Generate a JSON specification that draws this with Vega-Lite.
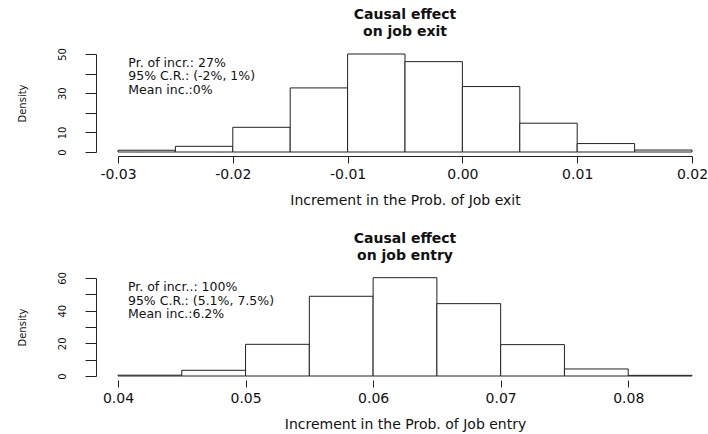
{
  "$schema": "https://vega.github.io/schema/vega-lite/v6.json",
  "background": "white",
  "padding": {"top": 8, "left": 17, "right": 8, "bottom": 2},
  "spacing": 25,
  "config": {
    "view": {"stroke": null},
    "font": "DejaVu Sans",
    "axis": {"grid": false, "domainColor": "#222", "tickColor": "#222", "labelColor": "#111", "titleColor": "#111", "labelFont": "DejaVu Sans", "titleFont": "DejaVu Sans", "titleFontWeight": "normal"},
    "axisX": {"labelFontSize": 14, "titleFontSize": 14, "tickSize": 7, "offset": 4, "labelPadding": 4, "titlePadding": 12, "labelFlush": false, "tickCount": 20, "labelExpr": "replace(datum.label, '\u2212', '-')"},
    "axisY": {"labelFontSize": 10, "titleFontSize": 10, "tickSize": 11, "offset": 22, "labelAngle": -90, "labelAlign": "center", "labelBaseline": "bottom", "labelPadding": 18, "titlePadding": 30, "labelOverlap": false, "tickCount": 20},
    "title": {"font": "DejaVu Sans", "fontSize": 14, "fontWeight": "bold", "lineHeight": 16.5, "anchor": "middle", "frame": "group", "offset": 9, "color": "#111"}
  },
  "datasets": {
    "exit": [
      {"lo": -0.03, "hi": -0.025, "density": 0.9},
      {"lo": -0.025, "hi": -0.02, "density": 2.9},
      {"lo": -0.02, "hi": -0.015, "density": 12.6},
      {"lo": -0.015, "hi": -0.01, "density": 32.7},
      {"lo": -0.01, "hi": -0.005, "density": 50.0},
      {"lo": -0.005, "hi": 0.0, "density": 46.1},
      {"lo": 0.0, "hi": 0.005, "density": 33.4},
      {"lo": 0.005, "hi": 0.01, "density": 14.7},
      {"lo": 0.01, "hi": 0.015, "density": 4.3},
      {"lo": 0.015, "hi": 0.02, "density": 1.0}
    ],
    "entry": [
      {"lo": 0.04, "hi": 0.045, "density": 0.5},
      {"lo": 0.045, "hi": 0.05, "density": 3.5},
      {"lo": 0.05, "hi": 0.055, "density": 19.4},
      {"lo": 0.055, "hi": 0.06, "density": 48.8},
      {"lo": 0.06, "hi": 0.065, "density": 60.2},
      {"lo": 0.065, "hi": 0.07, "density": 44.3},
      {"lo": 0.07, "hi": 0.075, "density": 19.2},
      {"lo": 0.075, "hi": 0.08, "density": 4.3},
      {"lo": 0.08, "hi": 0.085, "density": 0.4}
    ],
    "notes": [
      {"panel": "exit", "note": "Pr. of incr.: 27%\n95% C.R.: (-2%, 1%)\nMean inc.:0%"},
      {"panel": "entry", "note": "Pr. of incr..: 100%\n95% C.R.: (5.1%, 7.5%)\nMean inc.:6.2%"}
    ]
  },
  "vconcat": [
    {
      "title": {"text": ["Causal effect", "on job exit"]},
      "width": 574,
      "height": 98,
      "layer": [
        {
          "data": {"name": "exit"},
          "mark": {"type": "bar", "fill": "white", "stroke": "#222", "strokeWidth": 1},
          "encoding": {
            "x": {"field": "lo", "type": "quantitative", "scale": {"domain": [-0.03, 0.02], "nice": false, "zero": false},
                  "axis": {"values": [-0.03, -0.02, -0.01, 0, 0.01, 0.02], "format": ".2f", "title": "Increment in the Prob. of Job exit"}},
            "x2": {"field": "hi"},
            "y": {"field": "density", "type": "quantitative", "scale": {"domain": [0, 50], "nice": false},
                  "axis": {"values": [0, 10, 20, 30, 40, 50], "tickCount": 20, "labelOverlap": false,
                           "labelOpacity": {"condition": {"test": "datum.value == 20 || datum.value == 40", "value": 0}, "value": 1},
                           "title": "Density"}},
            "y2": {"datum": 0}
          }
        },
        {
          "data": {"name": "notes"},
          "transform": [{"filter": "datum.panel == 'exit'"}],
          "mark": {"type": "text", "align": "left", "baseline": "top", "fontSize": 12.5, "lineHeight": 13.5, "lineBreak": "\n", "color": "#111"},
          "encoding": {
            "x": {"datum": -0.0291},
            "y": {"datum": 48.5},
            "text": {"field": "note"}
          }
        }
      ]
    },
    {
      "title": {"text": ["Causal effect", "on job entry"]},
      "width": 574,
      "height": 98,
      "layer": [
        {
          "data": {"name": "entry"},
          "mark": {"type": "bar", "fill": "white", "stroke": "#222", "strokeWidth": 1},
          "encoding": {
            "x": {"field": "lo", "type": "quantitative", "scale": {"domain": [0.04, 0.085], "nice": false, "zero": false},
                  "axis": {"values": [0.04, 0.05, 0.06, 0.07, 0.08], "format": ".2f", "domain": false, "title": "Increment in the Prob. of Job entry"}},
            "x2": {"field": "hi"},
            "y": {"field": "density", "type": "quantitative", "scale": {"domain": [0, 60], "nice": false},
                  "axis": {"values": [0, 10, 20, 30, 40, 50, 60], "tickCount": 20, "labelOverlap": false,
                           "labelOpacity": {"condition": {"test": "datum.value == 10 || datum.value == 30 || datum.value == 50", "value": 0}, "value": 1},
                           "title": "Density"}},
            "y2": {"datum": 0}
          }
        },
        {
          "mark": {"type": "rule", "stroke": "#222", "strokeWidth": 1, "yOffset": 4},
          "encoding": {
            "x": {"datum": 0.04},
            "x2": {"datum": 0.08},
            "y": {"datum": 0}
          }
        },
        {
          "data": {"name": "notes"},
          "transform": [{"filter": "datum.panel == 'entry'"}],
          "mark": {"type": "text", "align": "left", "baseline": "top", "fontSize": 12.5, "lineHeight": 13.5, "lineBreak": "\n", "color": "#111"},
          "encoding": {
            "x": {"datum": 0.04078},
            "y": {"datum": 58},
            "text": {"field": "note"}
          }
        }
      ]
    }
  ]
}
